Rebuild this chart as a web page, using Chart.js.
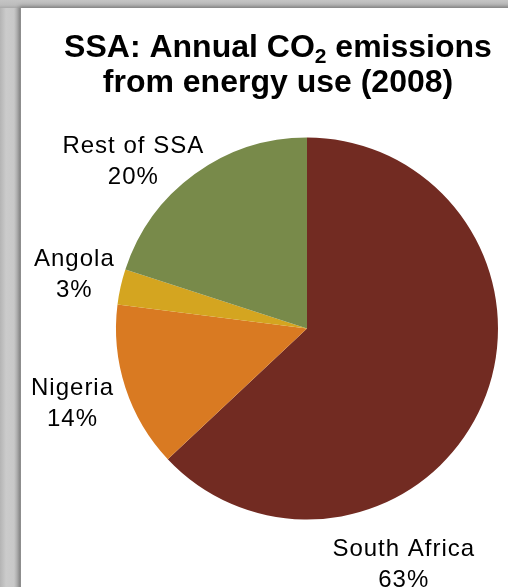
<!DOCTYPE html>
<html>
<head>
<meta charset="utf-8">
<script src="https://cdn.jsdelivr.net/npm/chart.js@4.4.1/dist/chart.umd.min.js"></script>
<style>
    html, body { margin: 0; padding: 0; }
    body {
        width: 508px; height: 587px; overflow: hidden; position: relative;
        background: linear-gradient(to right, #b4b4b4 0px, #cbcbcb 6px, #c8c8c8 14px, #a2a2a2 20px, #bdbdbd 21px);
    }
    #panel {
        position: absolute; left: 21px; top: 8px; width: 520px; height: 600px;
        background: #fff;
        box-shadow: -2px -2px 4px rgba(0,0,0,0.25);
    }
    #topband {
        position: absolute; left: 0; top: 0; width: 508px; height: 8px;
        background: linear-gradient(to bottom, #c4c4c4 0px, #bdbdbd 5px, #a9a9a9 8px);
    }
    #wrap { position: absolute; left: 0; top: 0; width: 508px; height: 587px; }
</style>
</head>
<body>
<div id="topband"></div>
<div id="panel"></div>
<div id="wrap"><canvas id="co2Chart" width="508" height="587"></canvas></div>
<script>
const titleLines = ['SSA: Annual CO|2| emissions', 'from energy use (2008)'];
const countries = ['South Africa', 'Nigeria', 'Angola', 'Rest of SSA'];
const shares = [63, 14, 3, 20];
const sliceColors = ['#722b22', '#d97a22', '#d4a520', '#788a4a'];

// where each label sits: angle clockwise from 12 o'clock, distance as multiple of the radius
const labelLayout = [
    { angle: 157.7, dist: 1.335 },
    { angle: 252.1, dist: 1.29 },
    { angle: 283, dist: 1.25 },
    { angle: 313.8, dist: 1.26 },
];

const FONT = '"Liberation Sans", Arial, sans-serif';

const titlePlugin = {
    id: 'subTitle',
    afterDraw(chart) {
        const ctx = chart.ctx;
        const cx = 278;
        const baselines = [57, 92];
        ctx.save();
        ctx.fillStyle = '#000';
        ctx.textBaseline = 'alphabetic';
        ctx.textAlign = 'left';
        titleLines.forEach((line, i) => {
            // pieces between | are subscripts
            const parts = line.split('|').map((t, k) => ({ text: t, sub: k % 2 === 1 }));
            let total = 0;
            parts.forEach(p => {
                ctx.font = p.sub ? 'bold 21px ' + FONT : 'bold 32px ' + FONT;
                p.w = ctx.measureText(p.text).width;
                total += p.w;
            });
            let x = cx - total / 2;
            parts.forEach(p => {
                ctx.font = p.sub ? 'bold 21px ' + FONT : 'bold 32px ' + FONT;
                ctx.fillText(p.text, x, baselines[i] + (p.sub ? 6 : 0));
                x += p.w;
            });
        });
        ctx.restore();
    }
};

const labelPlugin = {
    id: 'sliceLabels',
    afterDatasetsDraw(chart) {
        const ctx = chart.ctx;
        const meta = chart.getDatasetMeta(0);
        ctx.save();
        ctx.fillStyle = '#000';
        ctx.font = '24px ' + FONT;
        ctx.letterSpacing = '1px';
        ctx.textAlign = 'center';
        ctx.textBaseline = 'middle';
        meta.data.forEach((arc, i) => {
            const lay = labelLayout[i];
            const a = (lay.angle - 90) * Math.PI / 180;
            const d = arc.outerRadius * lay.dist;
            const x = arc.x + Math.cos(a) * d;
            const y = arc.y + Math.sin(a) * d;
            ctx.fillText(countries[i], x, y - 15.5);
            ctx.fillText(shares[i] + '%', x, y + 15.5);
        });
        ctx.restore();
    }
};

new Chart(document.getElementById('co2Chart').getContext('2d'), {
    type: 'pie',
    data: {
        labels: countries,
        datasets: [{
            data: shares,
            backgroundColor: sliceColors,
            borderWidth: 0,
        }],
    },
    options: {
        responsive: false,
        animation: false,
        layout: { padding: { left: 116, top: 137, right: 10, bottom: 67 } },
        plugins: {
            legend: { display: false },
            tooltip: { enabled: false },
            title: { display: false },
        },
    },
    plugins: [titlePlugin, labelPlugin],
});
</script>
</body>
</html>
